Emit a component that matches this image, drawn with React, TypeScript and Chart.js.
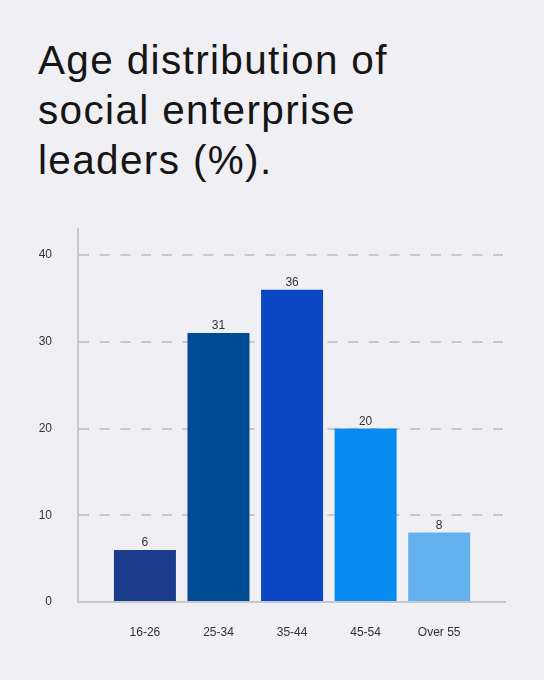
import React, { useEffect, useRef } from "react";
import { Chart, registerables } from "chart.js";

Chart.register(...registerables);

const titleLines = ["Age distribution of", "social enterprise", "leaders (%)."];
const categories = ["16-26", "25-34", "35-44", "45-54", "Over 55"];
const values = [6, 31, 36, 20, 8];
const barColors = ["#1b3b8b", "#024b95", "#0b46c3", "#068bf0", "#63b0ec"];
const yTicks = [0, 10, 20, 30, 40];

const FONT = "'Liberation Sans', Arial, Helvetica, sans-serif";

const valueLabels = {
  id: "valueLabels",
  afterDatasetsDraw(chart: any) {
    const ctx = chart.ctx;
    const meta = chart.getDatasetMeta(0);
    ctx.save();
    ctx.font = `12px ${FONT}`;
    ctx.fillStyle = "#333333";
    ctx.textAlign = "center";
    ctx.textBaseline = "alphabetic";
    meta.data.forEach((bar: any, i: number) => {
      ctx.fillText(String(values[i]), bar.x, bar.y - 4);
    });
    ctx.restore();
  },
};

export default function App() {
  const canvasRef = useRef<HTMLCanvasElement | null>(null);

  useEffect(() => {
    const canvas = canvasRef.current;
    if (!canvas) return;
    const chart = new Chart(canvas, {
      type: "bar",
      data: {
        datasets: [
          {
            data: values.map((v, i) => ({ x: i, y: v })),
            backgroundColor: barColors,
            borderWidth: 0,
            barPercentage: 0.843,
            categoryPercentage: 1,
          },
        ],
      },
      plugins: [valueLabels],
      options: {
        animation: false,
        responsive: false,
        maintainAspectRatio: false,
        devicePixelRatio: 1,
        layout: { padding: { left: 0, right: 39, top: 29, bottom: 0 } },
        plugins: {
          legend: { display: false },
          tooltip: { enabled: false },
          title: { display: false },
        },
        scales: {
          x: {
            type: "linear",
            offset: false,
            min: -0.91,
            max: 4.895,
            grid: { display: false, drawTicks: false, offset: false },
            border: { display: true, color: "#c7c7cb", width: 2 },
            afterBuildTicks: (scale: any) => {
              scale.ticks = categories.map((_, i) => ({ value: i }));
            },
            afterFit: (scale: any) => {
              scale.height = 78;
              scale.paddingLeft = 0;
              scale.paddingRight = 0;
            },
            ticks: {
              autoSkip: false,
              maxRotation: 0,
              padding: 23,
              color: "#333333",
              font: { family: FONT, size: 12 },
              callback: (v: any) => categories[v] ?? "",
            },
          },
          y: {
            type: "linear",
            min: 0,
            max: 43,
            grid: {
              drawTicks: false,
              color: (ctx: any) => (ctx.tick && ctx.tick.value === 0 ? "rgba(0,0,0,0)" : "#c8c8cc"),
              lineWidth: 2,
            },
            border: { display: true, color: "#c7c7cb", width: 2, dash: [10, 10.7] },
            afterBuildTicks: (scale: any) => {
              scale.ticks = yTicks.map((v) => ({ value: v }));
            },
            afterFit: (scale: any) => {
              scale.width = 78;
              scale.paddingTop = 0;
              scale.paddingBottom = 0;
            },
            ticks: {
              padding: 26,
              color: "#333333",
              font: { family: FONT, size: 12 },
            },
          },
        },
      },
    });
    return () => chart.destroy();
  }, []);

  return (
    <div
      style={{
        position: "absolute",
        left: 0,
        top: 0,
        width: 544,
        height: 680,
        background: "#efeff4",
        overflow: "hidden",
      }}
    >
      <div
        style={{
          position: "absolute",
          left: 38,
          top: 35,
          fontFamily: FONT,
          fontSize: 40.5,
          lineHeight: "50px",
          letterSpacing: "1.35px",
          color: "#151515",
          whiteSpace: "nowrap",
        }}
      >
        {titleLines.map((l, i) => (
          <div key={i}>{l}</div>
        ))}
      </div>
      <canvas
        ref={canvasRef}
        width={544}
        height={480}
        style={{ position: "absolute", left: 0, top: 200, width: 544, height: 480 }}
      />
    </div>
  );
}
